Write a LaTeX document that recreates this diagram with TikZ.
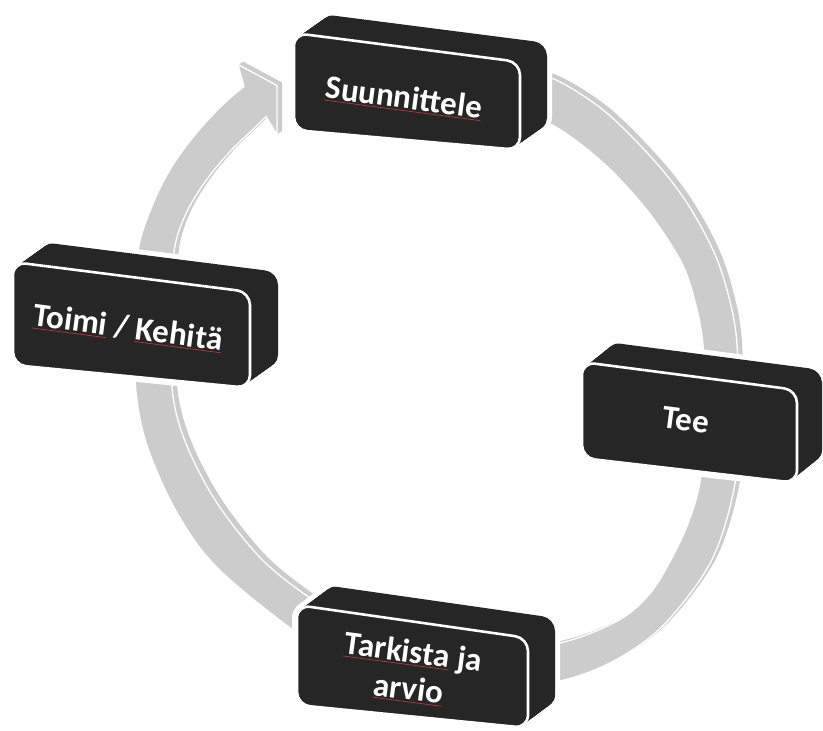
\documentclass[tikz,border=0pt]{standalone}
\usepackage{fontspec}
\setmainfont{Carlito}
\definecolor{boxdark}{HTML}{262626}
\definecolor{ringgray}{HTML}{CCCCCC}
\definecolor{spellred}{HTML}{B23A3A}
\newcommand\spell[1]{\setbox0=\hbox{#1}\rlap{\color{spellred}\rule[-2.5pt]{\wd0}{0.7pt}}\box0\relax}
\tikzset{
  boxhalo/.style={draw=white, line width=10pt, rounded corners=13pt, line join=round},
  boxbody/.style={fill=boxdark, rounded corners=13pt},
  boxfront/.style={fill=boxdark, draw=white, line width=2.6pt, rounded corners=13pt},
  lbl/.style={text=white, font=\fontsize{33}{37}\selectfont\bfseries, align=center, rotate=-7.5, inner sep=0pt},
  ringface/.style={fill=ringgray},
  ringedge/.style={draw=white, line width=1.3pt, line join=round},
}
\newcommand\solidbox[6]{%
  \foreach \i in {0,...,24} {\path[boxhalo, shift={(#5*\i/24,#6*\i/24)}] #1 -- #2 -- #3 -- #4 -- cycle;}
  \foreach \i in {0,...,24} {\path[boxbody, shift={(#5*\i/24,#6*\i/24)}] #1 -- #2 -- #3 -- #4 -- cycle;}
  \path[boxfront] #1 -- #2 -- #3 -- #4 -- cycle;
}
\def\ringpath{plot[smooth, tension=0.55] coordinates {(470,64) (520,70) (557,78) (607,110) (657,160) (690,203) (717,253) (732,300) (739,343) (740,411) (737,482) (714,558) (668,621) (622,656) (568,678) (490,690) (410,681) (345,657) (297,630) (220,567) (180,513) (150,447) (138,390) (137,320) (140,250) (153,207) (172,168) (198,132) (225,103) (246,85)} -- (240,63) -- (279,84) -- (279,133) -- (268,115) -- plot[smooth, tension=0.55] coordinates {(255,128) (232,150) (208,179) (188,212) (176,250) (172,320) (175,395) (190,447) (220,503) (263,557) (307,593) (350,620) (420,643) (500,650) (568,640) (622,618) (652,592) (672,560) (690,522) (702,480) (707,411) (705,343) (697,300) (683,260) (650,210) (607,163) (557,125) (510,108) (470,102)} -- cycle}
\begin{document}
\begin{tikzpicture}[x=1pt, y=-1pt]
\fill[white] (0,0) rectangle (823,731);
\useasboundingbox (0,0) rectangle (823,731);
% ring arrow (3D band)
\begin{scope}[shift={(-2,1.5)}]
  \foreach \i in {0,...,10} {\path[ringface, shift={(5*\i/10,-3*\i/10)}] \ringpath;}
  \path[ringface] \ringpath;
  \path[ringedge] \ringpath;
\end{scope}
% boxes
\solidbox{(294,33)}{(520,62)}{(520,150)}{(294,130)}{27}{-19}
\solidbox{(13,262)}{(250,292)}{(250,388)}{(13,365)}{28}{-20}
\solidbox{(582,362)}{(797,390)}{(797,483)}{(582,458)}{25}{-20}
\solidbox{(297,605)}{(528,638)}{(528,728)}{(297,705)}{27}{-20}
% labels
\node[lbl] (plan) at (404,98) {\spell{Suunnittele}};
\node[lbl] (act) at (128,328) {\spell{Toimi} / \spell{Kehitä}};
\node[lbl] (do) at (686,420) {Tee};
\node[lbl] (check) at (411,671) {\spell{Tarkista} ja\\\spell{arvio}};
\end{tikzpicture}
\end{document}
